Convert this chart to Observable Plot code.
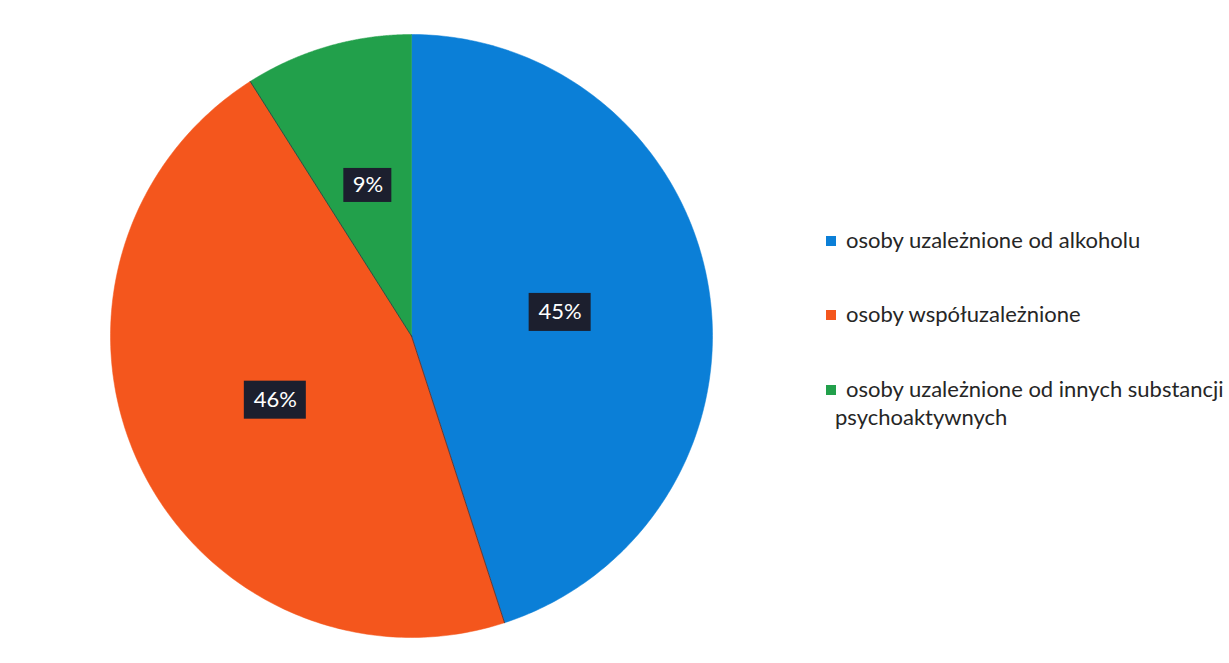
<!DOCTYPE html>
<html><head><meta charset="utf-8">
<script src="https://cdn.jsdelivr.net/npm/d3@7"></script>
<script src="https://cdn.jsdelivr.net/npm/@observablehq/plot@0.6"></script>
<style>
body{margin:0;background:#fff;}
#wrap{position:relative;width:1229px;height:663px;overflow:hidden;}
.item{position:absolute;font-family:Lato,"Open Sans",sans-serif;font-size:22px;color:#262626;white-space:nowrap;line-height:28px;}
.sw{position:absolute;width:10px;height:10px;}
</style></head><body><div id="wrap"></div>
<script>
const categories = ["osoby uzależnione od alkoholu", "osoby współuzależnione", "osoby uzależnione od innych substancji psychoaktywnych"];
const values = [45, 46, 9];
const labels = ["45%", "46%", "9%"];
const colors = ["#0b7fd7", "#f4561d", "#22a04b"];

const rows = categories.map((c, i) => ({category: c, value: values[i], label: labels[i]}));
const arcs = d3.pie().sort(null).value(d => d.value)(rows);

const slicePts = arcs.flatMap(a => {
  const n = 200, pts = [{x: 0, y: 0, category: a.data.category}];
  for (let k = 0; k <= n; k++) {
    const t = a.startAngle + (a.endAngle - a.startAngle) * k / n;
    pts.push({x: Math.sin(t), y: Math.cos(t), category: a.data.category});
  }
  pts.push({x: 0, y: 0, category: a.data.category});
  return pts;
});
const orange = arcs[1];
const edges = [orange.startAngle, orange.endAngle].flatMap((t, i) => [
  {x: 0, y: 0, e: i}, {x: Math.sin(t), y: Math.cos(t), e: i}
]);
const labelData = arcs.map(a => {
  const m = (a.startAngle + a.endAngle) / 2;
  const r = a.data.value < 20 ? 0.52 : 0.5;
  return {x: r * Math.sin(m), y: r * Math.cos(m), label: a.data.label, wide: a.data.label.length > 2};
});

const chart = Plot.plot({
  width: 1229, height: 663, margin: 0,
  x: {domain: [-1, 1], range: [110, 712], axis: null},
  y: {domain: [-1, 1], range: [637, 34], axis: null},
  color: {domain: categories, range: colors},
  style: {background: "#fff"},
  marks: [
    Plot.line(slicePts, {x: "x", y: "y", z: "category", fill: "category", stroke: "category", strokeWidth: 0.5}),
    Plot.line(edges, {x: "x", y: "y", z: "e", stroke: "#2b2b3a", strokeWidth: 1, strokeOpacity: 0.7}),
    Plot.rect(labelData.filter(d => d.wide), {x1: "x", x2: "x", y1: "y", y2: "y", insetLeft: -31, insetRight: -31, insetTop: -19, insetBottom: -19, fill: "#1c1f2e"}),
    Plot.rect(labelData.filter(d => !d.wide), {x1: "x", x2: "x", y1: "y", y2: "y", insetLeft: -24, insetRight: -24, insetTop: -17, insetBottom: -17, fill: "#1c1f2e"}),
    Plot.text(labelData, {x: "x", y: "y", text: "label", fill: "white", fontSize: 22, fontFamily: "Lato, 'Open Sans', sans-serif"})
  ]
});
const wrap = document.getElementById("wrap");
wrap.appendChild(chart);

const legendPos = [241, 315, 390];
categories.forEach((c, i) => {
  const sw = document.createElement("div");
  sw.className = "sw";
  sw.style.left = "826px"; sw.style.top = (legendPos[i] - 5) + "px";
  sw.style.background = colors[i];
  wrap.appendChild(sw);
  const words = c.split(" ");
  const first = i === 2 ? words.slice(0, -1).join(" ") : c;
  const t = document.createElement("div");
  t.className = "item";
  t.style.left = "846px"; t.style.top = (legendPos[i] - 15) + "px";
  t.textContent = first;
  wrap.appendChild(t);
  if (i === 2) {
    const t2 = document.createElement("div");
    t2.className = "item";
    t2.style.left = "835px"; t2.style.top = (legendPos[i] + 13) + "px";
    t2.textContent = words[words.length - 1];
    wrap.appendChild(t2);
  }
});
</script></body></html>
